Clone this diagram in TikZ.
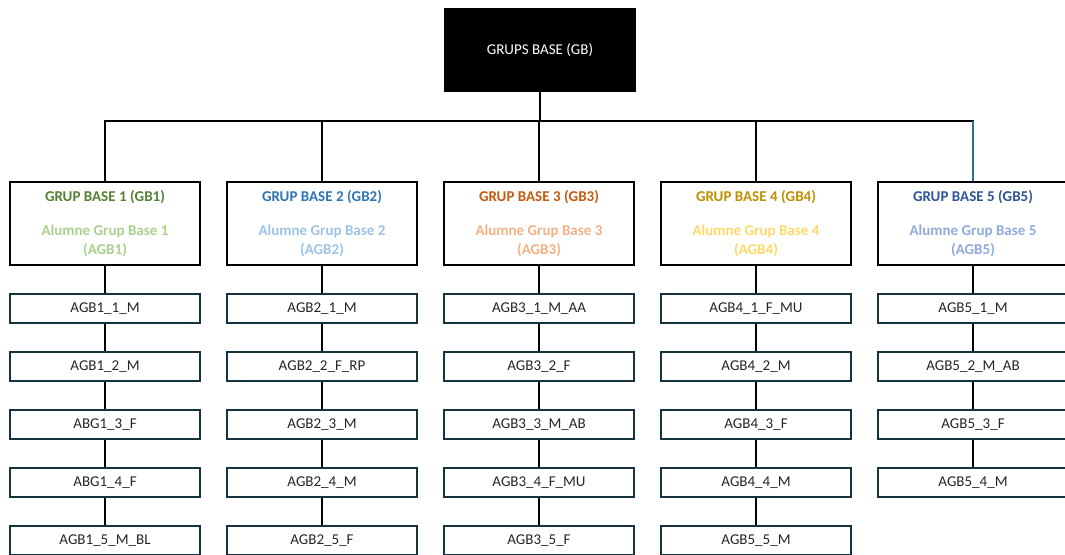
\documentclass[tikz,border=0pt]{standalone}
\usepackage{fontspec}
\setmainfont{Carlito}
\usepackage{xcolor}
\usetikzlibrary{positioning}

\definecolor{gb1}{HTML}{548235}
\definecolor{gb2}{HTML}{2E75B6}
\definecolor{gb3}{HTML}{C55A11}
\definecolor{gb4}{HTML}{BF9000}
\definecolor{gb5}{HTML}{2F5597}
\definecolor{agb1}{HTML}{A9D18E}
\definecolor{agb2}{HTML}{9DC3E6}
\definecolor{agb3}{HTML}{F4B183}
\definecolor{agb4}{HTML}{FFD966}
\definecolor{agb5}{HTML}{8FAADC}
\definecolor{edge}{HTML}{17323F}
\definecolor{tealline}{HTML}{2F6F8F}

\begin{document}
\begin{tikzpicture}[
  x=1pt, y=1pt,
  font=\fontsize{15}{19}\selectfont,
  node distance=26.5pt,
  topbox/.style={fill=black, text=white, minimum width=192pt, minimum height=84pt, inner sep=0pt},
  gbox/.style={draw=black, line width=2pt, fill=white, minimum width=190pt, minimum height=83pt, align=center, inner sep=0pt, font=\fontsize{15}{19}\selectfont\bfseries},
  abox/.style={draw=edge, line width=2.5pt, fill=white, minimum width=190pt, minimum height=29pt, inner sep=0pt, text=black!85},
  link/.style={line width=2pt},
]
\useasboundingbox (0,0) rectangle (1065,-554);
\clip (0,0) rectangle (1065,-554);

\node[topbox] (top) at (540,-50) {GRUPS BASE (GB)};
\coordinate (bar) at (540,-121);

\foreach \i in {1,...,5}
  \node[gbox, text=agb\i, alias=c\i-0] (gb\i) at ({105+217*(\i-1)},-223.5)
    {\textcolor{gb\i}{GRUP BASE \i{} (GB\i)}\\[15pt]Alumne Grup Base \i\\(AGB\i)};

% tree connectors
\draw[link] (top) -- (top |- bar);
\draw[link, line cap=rect] (gb1) |- (gb5 |- bar);
\foreach \i in {2,3,4} \draw[link] (gb\i) -- (gb\i |- bar);
\draw[link, tealline] (gb5) -- (gb5 |- bar);

% members of each group
\foreach \c/\names in {
  1/{AGB1\_1\_M,AGB1\_2\_M,ABG1\_3\_F,ABG1\_4\_F,AGB1\_5\_M\_BL},
  2/{AGB2\_1\_M,AGB2\_2\_F\_RP,AGB2\_3\_M,AGB2\_4\_M,AGB2\_5\_F},
  3/{AGB3\_1\_M\_AA,AGB3\_2\_F,AGB3\_3\_M\_AB,AGB3\_4\_F\_MU,AGB3\_5\_F},
  4/{AGB4\_1\_F\_MU,AGB4\_2\_M,AGB4\_3\_F,AGB4\_4\_M,AGB5\_5\_M},
  5/{AGB5\_1\_M,AGB5\_2\_M\_AB,AGB5\_3\_F,AGB5\_4\_M}} {
  \foreach \n [count=\r, remember=\r as \p (initially 0)] in \names {
    \node[abox, below=of c\c-\p] (c\c-\r) {\n};
    \draw[link] (c\c-\p) -- (c\c-\r);
  }
}
\end{tikzpicture}
\end{document}
